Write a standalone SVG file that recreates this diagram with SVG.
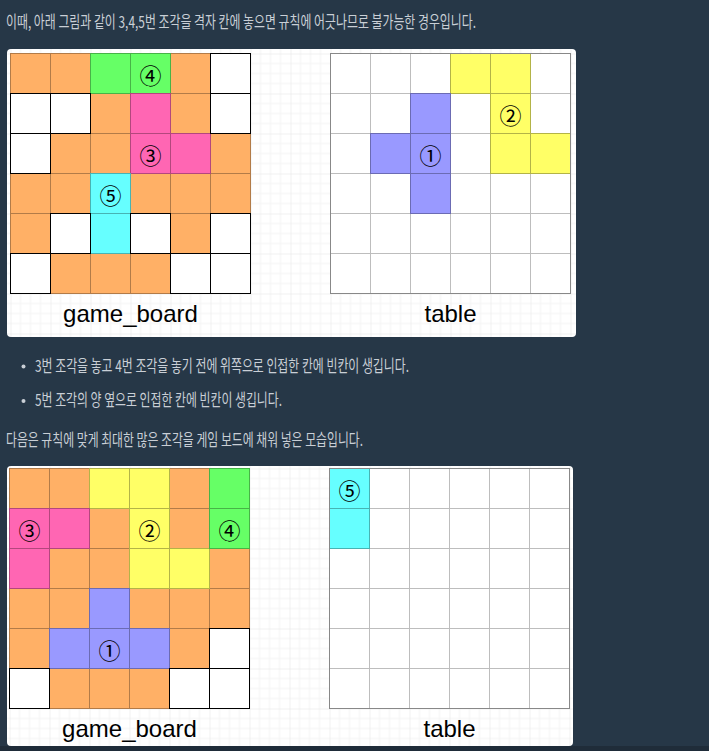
<svg xmlns="http://www.w3.org/2000/svg" width="709" height="751" viewBox="0 0 709 751">
<defs>
<pattern id="grid1" patternUnits="userSpaceOnUse" x="10.5" y="53.5" width="40" height="40">
<path d="M10 0V40M20 0V40M30 0V40M0 10H40M0 20H40M0 30H40" stroke="#f3f3f3" stroke-width="1" fill="none"/>
<path d="M0 0V40M0 0H40" stroke="#e4e4e4" stroke-width="1" fill="none"/>
</pattern>
<pattern id="grid2" patternUnits="userSpaceOnUse" x="9.5" y="468.5" width="40" height="40">
<path d="M10 0V40M20 0V40M30 0V40M0 10H40M0 20H40M0 30H40" stroke="#f3f3f3" stroke-width="1" fill="none"/>
<path d="M0 0V40M0 0H40" stroke="#e4e4e4" stroke-width="1" fill="none"/>
</pattern>
</defs>
<style>
.txt{font-family:"Noto Sans CJK KR","Noto Sans",sans-serif;font-size:16.5px;fill:#c9cfd6}
.lbl{font-family:"Liberation Sans",Arial,sans-serif;font-size:24px;fill:#000;text-anchor:middle}
.num{font-family:"Noto Sans CJK KR","DejaVu Sans",sans-serif;font-size:22px;fill:#000;text-anchor:middle;dominant-baseline:central}
rect.o,rect.w,rect.g,rect.p,rect.c,rect.y,rect.b,rect.t{width:40px;height:40px;stroke-width:1}
.o{fill:#FFB066;stroke:#b27b48}
.w{fill:#fff;stroke:#000}
.g{fill:#66FF66;stroke:#47b347}
.p{fill:#FF66B3;stroke:#b3477d}
.c{fill:#66FFFF;stroke:#47b3b3}
.y{fill:#FFFF66;stroke:#b3b347}
.b{fill:#9999FF;stroke:#6b6bb3}
.t{fill:#fff;stroke:#bdbdbd}
</style>
<rect x="0" y="0" width="709" height="751" fill="#263747"/>
<rect x="0" y="746" width="709" height="5" fill="#1f2c39"/>

<text class="txt" x="6" y="28" textLength="470" lengthAdjust="spacingAndGlyphs">이때, 아래 그림과 같이 3,4,5번 조각을 격자 칸에 놓으면 규칙에 어긋나므로 불가능한 경우입니다.</text>

<g id="panel1">
<rect x="7" y="49" width="569" height="288" rx="4" fill="#fff"/>
<rect x="7" y="49" width="569" height="288" rx="4" fill="url(#grid1)"/>
</g>

<g id="game_board_1" transform="translate(10.5,53.5)">
<rect class="o" x="0" y="0"/><rect class="o" x="40" y="0"/><rect class="o" x="160" y="0"/>
<rect class="o" x="80" y="40"/><rect class="o" x="160" y="40"/>
<rect class="o" x="40" y="80"/><rect class="o" x="80" y="80"/><rect class="o" x="200" y="80"/>
<rect class="o" x="0" y="120"/><rect class="o" x="40" y="120"/><rect class="o" x="120" y="120"/><rect class="o" x="160" y="120"/><rect class="o" x="200" y="120"/>
<rect class="o" x="0" y="160"/><rect class="o" x="160" y="160"/>
<rect class="o" x="40" y="200"/><rect class="o" x="80" y="200"/><rect class="o" x="120" y="200"/>
<rect class="g" x="80" y="0"/><rect class="g" x="120" y="0"/>
<rect class="p" x="120" y="40"/><rect class="p" x="120" y="80"/><rect class="p" x="160" y="80"/>
<rect class="c" x="80" y="120"/><rect class="c" x="80" y="160"/>
<rect class="w" x="200" y="0"/><rect class="w" x="0" y="40"/><rect class="w" x="40" y="40"/><rect class="w" x="200" y="40"/>
<rect class="w" x="0" y="80"/><rect class="w" x="40" y="160"/><rect class="w" x="120" y="160"/><rect class="w" x="200" y="160"/>
<rect class="w" x="0" y="200"/><rect class="w" x="160" y="200"/><rect class="w" x="200" y="200"/>
<text class="num" x="140" y="20">④</text>
<text class="num" x="140" y="100">③</text>
<text class="num" x="100" y="140">⑤</text>
</g>
<text class="lbl" x="130.5" y="322">game_board</text>

<g id="table_1" transform="translate(330.5,53.5)">
<rect class="t" x="0" y="0"/><rect class="t" x="40" y="0"/><rect class="t" x="80" y="0"/><rect class="t" x="200" y="0"/>
<rect class="t" x="0" y="40"/><rect class="t" x="40" y="40"/><rect class="t" x="120" y="40"/><rect class="t" x="200" y="40"/>
<rect class="t" x="0" y="80"/><rect class="t" x="120" y="80"/>
<rect class="t" x="0" y="120"/><rect class="t" x="40" y="120"/><rect class="t" x="120" y="120"/><rect class="t" x="160" y="120"/><rect class="t" x="200" y="120"/>
<rect class="t" x="0" y="160"/><rect class="t" x="40" y="160"/><rect class="t" x="80" y="160"/><rect class="t" x="120" y="160"/><rect class="t" x="160" y="160"/><rect class="t" x="200" y="160"/>
<rect class="t" x="0" y="200"/><rect class="t" x="40" y="200"/><rect class="t" x="80" y="200"/><rect class="t" x="120" y="200"/><rect class="t" x="160" y="200"/><rect class="t" x="200" y="200"/>
<rect class="y" x="120" y="0"/><rect class="y" x="160" y="0"/><rect class="y" x="160" y="40"/><rect class="y" x="160" y="80"/><rect class="y" x="200" y="80"/>
<rect class="b" x="80" y="40"/><rect class="b" x="40" y="80"/><rect class="b" x="80" y="80"/><rect class="b" x="80" y="120"/>
<rect x="0" y="0" width="240" height="240" fill="none" stroke="#888"/>
<text class="num" x="180" y="60">②</text>
<text class="num" x="100" y="100">①</text>
</g>
<text class="lbl" x="450.5" y="322">table</text>

<circle cx="23.5" cy="366.5" r="2" fill="#c9cfd6"/>
<text class="txt" x="35" y="372" textLength="374" lengthAdjust="spacingAndGlyphs">3번 조각을 놓고 4번 조각을 놓기 전에 위쪽으로 인접한 칸에 빈칸이 생깁니다.</text>
<circle cx="23.5" cy="401" r="2" fill="#c9cfd6"/>
<text class="txt" x="35" y="406" textLength="247" lengthAdjust="spacingAndGlyphs">5번 조각의 양 옆으로 인접한 칸에 빈칸이 생깁니다.</text>
<text class="txt" x="6" y="446" textLength="357" lengthAdjust="spacingAndGlyphs">다음은 규칙에 맞게 최대한 많은 조각을 게임 보드에 채워 넣은 모습입니다.</text>

<g id="panel2">
<rect x="7" y="466" width="566" height="280" rx="4" fill="#fff"/>
<rect x="7" y="466" width="566" height="280" rx="4" fill="url(#grid2)"/>
</g>

<g id="game_board_2" transform="translate(9.5,468.5)">
<rect class="o" x="0" y="0"/><rect class="o" x="40" y="0"/><rect class="o" x="160" y="0"/>
<rect class="o" x="80" y="40"/><rect class="o" x="160" y="40"/>
<rect class="o" x="40" y="80"/><rect class="o" x="80" y="80"/><rect class="o" x="200" y="80"/>
<rect class="o" x="0" y="120"/><rect class="o" x="40" y="120"/><rect class="o" x="120" y="120"/><rect class="o" x="160" y="120"/><rect class="o" x="200" y="120"/>
<rect class="o" x="0" y="160"/><rect class="o" x="160" y="160"/>
<rect class="o" x="40" y="200"/><rect class="o" x="80" y="200"/><rect class="o" x="120" y="200"/>
<rect class="y" x="80" y="0"/><rect class="y" x="120" y="0"/><rect class="y" x="120" y="40"/><rect class="y" x="120" y="80"/><rect class="y" x="160" y="80"/>
<rect class="g" x="200" y="0"/><rect class="g" x="200" y="40"/>
<rect class="p" x="0" y="40"/><rect class="p" x="40" y="40"/><rect class="p" x="0" y="80"/>
<rect class="b" x="80" y="120"/><rect class="b" x="40" y="160"/><rect class="b" x="80" y="160"/><rect class="b" x="120" y="160"/>
<rect class="w" x="200" y="160"/><rect class="w" x="0" y="200"/><rect class="w" x="160" y="200"/><rect class="w" x="200" y="200"/>
<text class="num" x="20" y="60">③</text>
<text class="num" x="140" y="60">②</text>
<text class="num" x="220" y="60">④</text>
<text class="num" x="100" y="180">①</text>
</g>
<text class="lbl" x="129.5" y="737">game_board</text>

<g id="table_2" transform="translate(329.5,468.5)">
<rect class="t" x="40" y="0"/><rect class="t" x="80" y="0"/><rect class="t" x="120" y="0"/><rect class="t" x="160" y="0"/><rect class="t" x="200" y="0"/>
<rect class="t" x="40" y="40"/><rect class="t" x="80" y="40"/><rect class="t" x="120" y="40"/><rect class="t" x="160" y="40"/><rect class="t" x="200" y="40"/>
<rect class="t" x="0" y="80"/><rect class="t" x="40" y="80"/><rect class="t" x="80" y="80"/><rect class="t" x="120" y="80"/><rect class="t" x="160" y="80"/><rect class="t" x="200" y="80"/>
<rect class="t" x="0" y="120"/><rect class="t" x="40" y="120"/><rect class="t" x="80" y="120"/><rect class="t" x="120" y="120"/><rect class="t" x="160" y="120"/><rect class="t" x="200" y="120"/>
<rect class="t" x="0" y="160"/><rect class="t" x="40" y="160"/><rect class="t" x="80" y="160"/><rect class="t" x="120" y="160"/><rect class="t" x="160" y="160"/><rect class="t" x="200" y="160"/>
<rect class="t" x="0" y="200"/><rect class="t" x="40" y="200"/><rect class="t" x="80" y="200"/><rect class="t" x="120" y="200"/><rect class="t" x="160" y="200"/><rect class="t" x="200" y="200"/>
<rect class="c" x="0" y="0"/><rect class="c" x="0" y="40"/>
<rect x="0" y="0" width="240" height="240" fill="none" stroke="#888"/>
<text class="num" x="20" y="20">⑤</text>
</g>
<text class="lbl" x="449.5" y="737">table</text>
</svg>
